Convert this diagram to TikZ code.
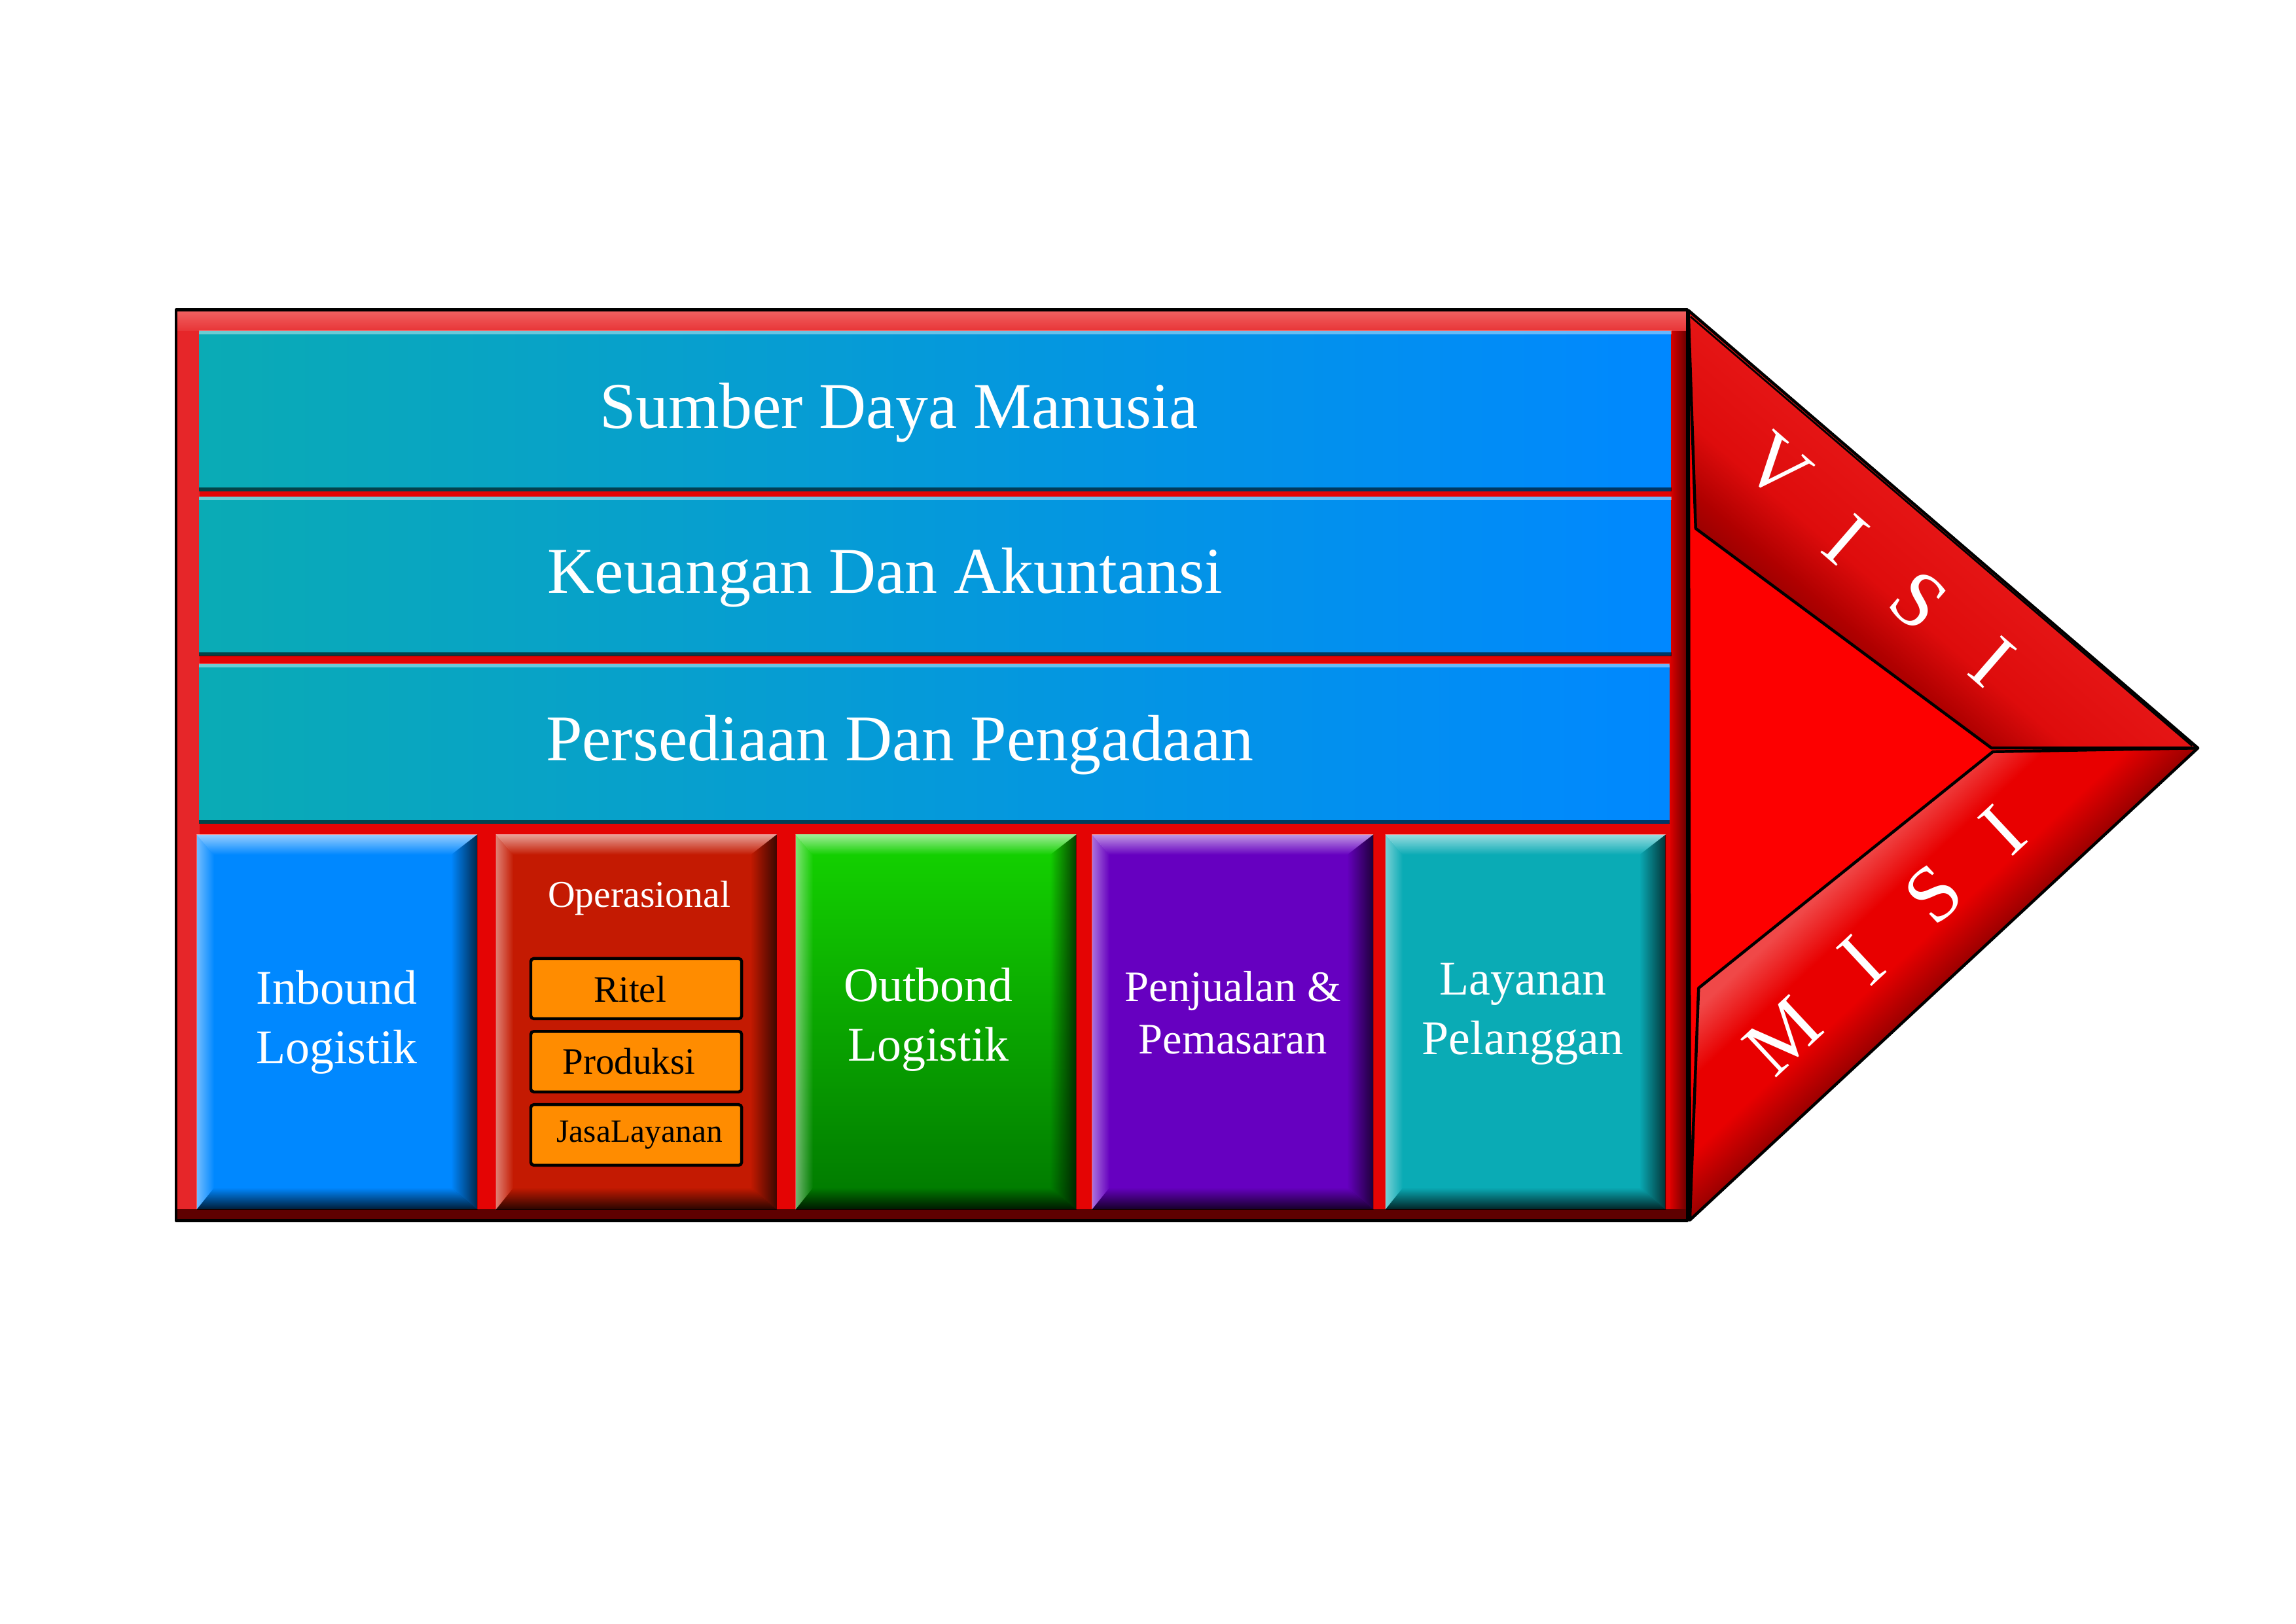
\documentclass[tikz,border=0pt]{standalone}
\usepackage{fontspec}
\setmainfont{Liberation Serif}
\usetikzlibrary{fit,calc,fadings}
\definecolor{framered}{HTML}{E40404}
\definecolor{frametop}{HTML}{F06262}
\definecolor{frametop2}{HTML}{E83436}
\definecolor{frameleft}{HTML}{E62629}
\definecolor{frameright1}{HTML}{D80000}
\definecolor{frameright2}{HTML}{6A0000}
\definecolor{framebottom}{HTML}{5E0000}
\definecolor{barL}{HTML}{0AABB5}
\definecolor{barR}{HTML}{0088FF}
\definecolor{inblue}{HTML}{0088FF}
\definecolor{opred}{HTML}{C41A02}
\definecolor{greenT}{HTML}{14D400}
\definecolor{greenB}{HTML}{007800}
\definecolor{purp}{HTML}{6600C0}
\definecolor{teal2}{HTML}{0AABB5}
\definecolor{suborange}{HTML}{FF8C00}
\definecolor{arrowred}{HTML}{FD0000}
\definecolor{vtop}{HTML}{E61616}
\definecolor{vmid}{HTML}{DE0C0C}
\definecolor{vmid2}{HTML}{B00000}
\definecolor{vdark}{HTML}{900000}
\definecolor{mdark}{HTML}{9A0000}
\definecolor{mred}{HTML}{E80000}
\definecolor{mlight}{HTML}{F04848}
\pgfdeclareverticalshading{visish}{100bp}{color(0bp)=(vdark); color(25bp)=(vdark); color(36bp)=(vmid2); color(50bp)=(vmid); color(75bp)=(vtop); color(100bp)=(vtop)}
\pgfdeclareverticalshading{misish}{100bp}{color(0bp)=(mdark); color(27bp)=(mdark); color(40bp)=(mred); color(55bp)=(mred); color(68bp)=(mlight); color(100bp)=(mlight)}
\tikzfading[name=fadeR, left color=transparent!0, right color=transparent!100]
\tikzfading[name=fadeL, left color=transparent!100, right color=transparent!0]
\tikzfading[name=fadeD, top color=transparent!0, bottom color=transparent!100]
\tikzfading[name=fadeU, top color=transparent!100, bottom color=transparent!0]
\tikzset{
 outline/.style={draw=black, line width=0.4mm, line join=round},
 bartext/.style={text=white, inner sep=0pt, font=\fontsize{25.4}{30}\selectfont},
 boxtext/.style={text=white, inner sep=0pt, align=center, font=\fontsize{18.8}{23.1}\selectfont},
 subbox/.style={draw=black, line width=0.4mm, fill=suborange, rounded corners=0.4mm, inner sep=0pt},
 subtext/.style={text=black, inner sep=0pt, font=\fontsize{14.5}{17}\selectfont},
 letter/.style={text=white, inner sep=0pt, font=\fontsize{31}{31}\selectfont},
 barbox/.style={inner sep=0pt, left color=barL, right color=barR},
}
\newcommand{\bevelbox}[4]{%
 \node[fit={#2 #3}, inner sep=0pt, #4] (#1) {};
 \fill[white, opacity=0.45, path fading=fadeR] (#1.north west) -- ($(#1.north west)+(12,14)$) -- ($(#1.south west)+(12,-15)$) -- (#1.south west) -- cycle;
 \fill[black, opacity=0.7, path fading=fadeL] (#1.north east) -- ($(#1.north east)+(-18,14)$) -- ($(#1.south east)+(-18,-15)$) -- (#1.south east) -- cycle;
 \fill[white, opacity=0.6, path fading=fadeD] (#1.north west) -- (#1.north east) -- ($(#1.north east)+(-18,14)$) -- ($(#1.north west)+(12,14)$) -- cycle;
 \fill[black, opacity=0.8, path fading=fadeU] (#1.south west) -- (#1.south east) -- ($(#1.south east)+(-18,-15)$) -- ($(#1.south west)+(12,-15)$) -- cycle;
}
\newcommand{\barline}[1]{%
 \fill[white, opacity=0.4] (#1.north west) rectangle ($(#1.north east)+(0,2.5)$);
 \fill[black, opacity=0.6] ($(#1.south west)+(0,-2.5)$) rectangle (#1.south east);
}
\begin{document}
\begin{tikzpicture}[x=0.2mm,y=-0.2mm]
\useasboundingbox[fill=white] (0,0) rectangle (1568,1109);
% frame
\node[fit={(120.5,212) (1152,833.5)}, inner sep=0pt, fill=framered] (frame) {};
\shade[top color=frametop, bottom color=frametop2] (120.5,212) rectangle (1152,226.2);
\fill[frameleft] (120.5,226.2) rectangle (136.2,826);
\shade[left color=frameright1, right color=frameright2] (1141,226.2) rectangle (1152,833.5);
\fill[framebottom] (120.5,826) rectangle (1152,833.5);
\draw[outline] (frame.north west) rectangle (frame.south east);
% horizontal bars
\node[barbox, fit={(136.2,226.2) (1141,335.3)}] (sdm) {};
\barline{sdm}
\node[barbox, fit={(136.2,339.4) (1141,447.8)}] (keu) {};
\barline{keu}
\node[barbox, fit={(136.2,453.7) (1140,562.3)}] (pers) {};
\barline{pers}
\node[bartext, anchor=base] (t1) at (614,292.4) {Sumber Daya Manusia};
\node[bartext, anchor=base] (t2) at (604.5,405.3) {Keuangan Dan Akuntansi};
\node[bartext, anchor=base] (t3) at (614.5,519.5) {Persediaan Dan Pengadaan};
% bottom boxes
\bevelbox{inb}{(134.6,570.3)}{(325.7,826)}{fill=inblue}
\bevelbox{ops}{(339,570.3)}{(530.2,826)}{fill=opred}
\bevelbox{outb}{(543.6,570.3)}{(734.8,826)}{top color=greenT, bottom color=greenB}
\bevelbox{pjl}{(746,570.3)}{(937.6,826)}{fill=purp}
\bevelbox{lyn}{(946.4,570.3)}{(1137.3,826)}{fill=teal2}
\node[boxtext] (tin) at (230,698.5) {Inbound\\Logistik};
\node[boxtext] (tout) at (634,696.4) {Outbond\\Logistik};
\node[boxtext, font=\fontsize{16.9}{20.5}\selectfont] (tpj) at (842,691.8) {Penjualan \&\\Pemasaran};
\node[boxtext] (tlp) at (1040,692.7) {Layanan\\Pelanggan};
\node[text=white, inner sep=0pt, anchor=base, font=\fontsize{14.7}{17}\selectfont] (tops) at (436.6,619.6) {Operasional};
\node[subbox, fit={(362.5,654.8) (506.5,695.9)}] (ritel) {};
\node[subbox, fit={(362.5,704.6) (506.5,745.9)}] (produksi) {};
\node[subbox, fit={(362.5,754.6) (506.5,796)}] (jasa) {};
\node[subtext, anchor=base] (tritel) at (430.3,684.4) {Ritel};
\node[subtext, anchor=base] (tprod) at (429.6,733.9) {Produksi};
\node[subtext, anchor=base, font=\fontsize{12.6}{15}\selectfont] (tjasa) at (436.8,780) {JasaLayanan};
% arrow head
\coordinate (A) at (1153,212);
\coordinate (T) at (1501,511);
\coordinate (B) at (1154,833.5);
\coordinate (I1) at (1158,361);
\coordinate (C) at (1360,511);
\coordinate (Cb) at (1361,513.5);
\coordinate (I2) at (1160,675);
\fill[arrowred] (A) -- (T) -- (B) -- cycle;
\begin{scope}
 \clip (A) -- (T) -- (C) -- (I1) -- cycle;
 \shade[shading=visish, transform canvas={shift={(1153,212)}, rotate=-40.6}] (-10,-5) rectangle (480,120);
\end{scope}
\begin{scope}
 \clip (B) -- (T) -- (Cb) -- (I2) -- cycle;
 \shade[shading=misish, transform canvas={shift={(1154,833.5)}, rotate=42.86}] (-10,-120) rectangle (490,5);
\end{scope}
\draw[outline] (A) -- (T) -- (B) -- cycle;
\draw[outline] (A) -- (I1) -- (C) -- (T);
\draw[outline] (B) -- (I2) -- (Cb) -- (T);
\draw[black, line width=0.25mm] (1154.5,216.3) -- (1497,509.5);
% letters
\node[letter, rotate=-41] (v1) at (1213.7,319) {V};
\node[letter, rotate=-41] (v2) at (1260.6,368.6) {I};
\node[letter, rotate=-41] (v3) at (1310,410) {S};
\node[letter, rotate=-41] (v4) at (1360.6,452) {I};
\node[letter, rotate=43] (m1) at (1217.7,707.8) {M};
\node[letter, rotate=43] (m2) at (1271.4,656) {I};
\node[letter, rotate=43] (m3) at (1320.3,610.5) {S};
\node[letter, rotate=43] (m4) at (1367.8,567) {I};
\end{tikzpicture}
\end{document}
